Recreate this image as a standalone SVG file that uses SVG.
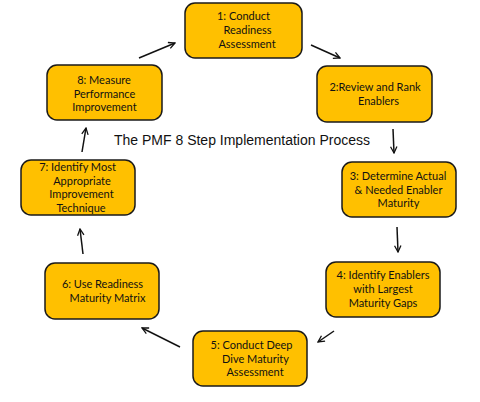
<svg xmlns="http://www.w3.org/2000/svg" width="480" height="402" viewBox="0 0 480 402">
<style>
.box{fill:#FFC000;stroke:#1a1a1a;stroke-width:1.5}
.t{font-family:Lato,"Open Sans","Liberation Sans",sans-serif;font-size:11px;fill:#111;text-anchor:middle}
.title{font-family:"Liberation Sans",Arial,sans-serif;font-size:14px;fill:#111;text-anchor:middle}
.c{fill:none;stroke:#111;stroke-width:1.5}
</style>
<defs>
<marker id="ah" viewBox="0 0 10 10" refX="9" refY="5" markerWidth="8" markerHeight="8" markerUnits="userSpaceOnUse" orient="auto">
<polyline points="1,1 9,5 1,9" fill="none" stroke="#111" stroke-width="1.6"/>
</marker>
</defs>
<rect width="480" height="402" fill="#fff"/>
<g id="connectors">
<line class="c" x1="311" y1="45" x2="340" y2="58" marker-end="url(#ah)"/>
<line class="c" x1="393" y1="129" x2="394" y2="153" marker-end="url(#ah)"/>
<line class="c" x1="397" y1="227" x2="398" y2="252" marker-end="url(#ah)"/>
<line class="c" x1="334" y1="331" x2="318" y2="342" marker-end="url(#ah)"/>
<line class="c" x1="180" y1="347" x2="142" y2="328" marker-end="url(#ah)"/>
<line class="c" x1="83" y1="254" x2="80" y2="229" marker-end="url(#ah)"/>
<line class="c" x1="82" y1="152" x2="86" y2="128" marker-end="url(#ah)"/>
<line class="c" x1="139" y1="58" x2="175" y2="43" marker-end="url(#ah)"/>
</g>
<g id="node1">
<rect class="box" x="185" y="3" width="117" height="55" rx="10"/>
<text class="t" x="243.5" y="20">1: Conduct</text>
<text class="t" x="247.5" y="34">Readiness</text>
<text class="t" x="247" y="48">Assessment</text>
</g>
<g id="node2">
<rect class="box" x="317" y="66" width="115" height="56" rx="10"/>
<text class="t" x="375" y="90.5">2:Review and Rank</text>
<text class="t" x="378.5" y="105">Enablers</text>
</g>
<g id="node3">
<rect class="box" x="342" y="162" width="114" height="55" rx="10"/>
<text class="t" x="398" y="180">3: Determine Actual</text>
<text class="t" x="398.5" y="193.5">&amp; Needed Enabler</text>
<text class="t" x="398.5" y="207">Maturity</text>
</g>
<g id="node4">
<rect class="box" x="326" y="262" width="114" height="55" rx="10"/>
<text class="t" x="383" y="279">4: Identify Enablers</text>
<text class="t" x="383" y="293">with Largest</text>
<text class="t" x="383" y="306.5">Maturity Gaps</text>
</g>
<g id="node5">
<rect class="box" x="193" y="331" width="114" height="55" rx="10"/>
<text class="t" x="251.5" y="349">5: Conduct Deep</text>
<text class="t" x="255.5" y="362.5">Dive Maturity</text>
<text class="t" x="255" y="376">Assessment</text>
</g>
<g id="node6">
<rect class="box" x="45" y="263" width="114" height="56" rx="10"/>
<text class="t" x="102.5" y="288">6: Use Readiness</text>
<text class="t" x="107.5" y="302">Maturity Matrix</text>
</g>
<g id="node7">
<rect class="box" x="21" y="160" width="114" height="55" rx="10"/>
<text class="t" x="77.5" y="171">7: Identify Most</text>
<text class="t" x="82" y="184.5">Appropriate</text>
<text class="t" x="81.5" y="198">Improvement</text>
<text class="t" x="81" y="211.5">Technique</text>
</g>
<g id="node8">
<rect class="box" x="47" y="65" width="115" height="55" rx="10"/>
<text class="t" x="104" y="84">8: Measure</text>
<text class="t" x="104.5" y="97.5">Performance</text>
<text class="t" x="104.5" y="111">Improvement</text>
</g>
<text class="title" x="242" y="145">The PMF 8 Step Implementation Process</text>
</svg>
